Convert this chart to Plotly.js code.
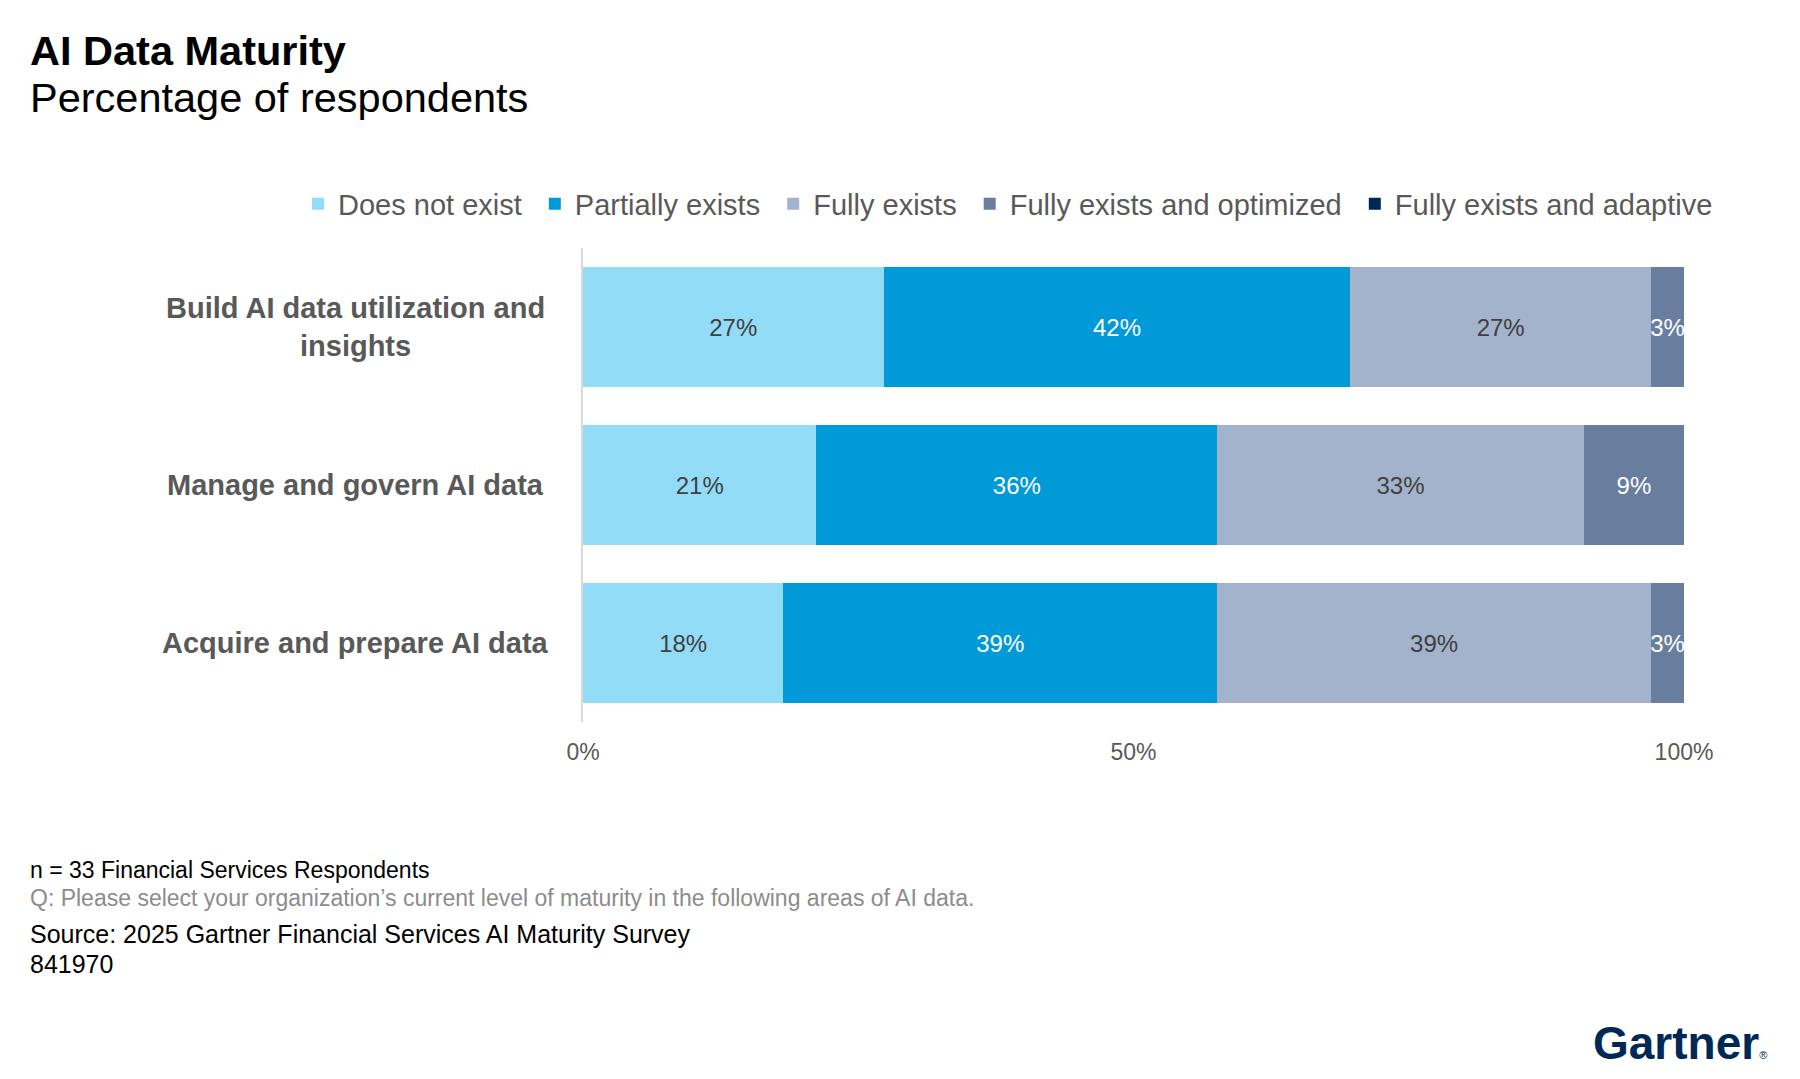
<!DOCTYPE html>
<html>
<head>
<meta charset="utf-8">
<script src="https://cdn.plot.ly/plotly-3.0.1.min.js"></script>
<style>
  html, body { margin: 0; padding: 0; background: #ffffff; }
  #chart { width: 1800px; height: 1079px; }
</style>
</head>
<body>
<div id="chart"></div>
<script>
// ---- Data ----
const categories = [
  "Build AI data utilization and<br>insights",
  "Manage and govern AI data",
  "Acquire and prepare AI data"
];
const seriesNames = [
  "Does not exist",
  "Partially exists",
  "Fully exists",
  "Fully exists and optimized",
  "Fully exists and adaptive"
];
const doesNotExist = [27.3, 21.2, 18.2];
const partiallyExists = [42.4, 36.4, 39.4];
const fullyExists = [27.3, 33.3, 39.4];
const fullyOptimized = [3.0, 9.1, 3.0];
const fullyAdaptive = [0, 0, 0];
const xTickVals = [0, 50, 100];
const xTickText = ["0%", "50%", "100%"];

const titleText = "AI Data Maturity";
const subtitleText = "Percentage of respondents";
const footnotes = [
  "n = 33 Financial Services Respondents",
  "Q: Please select your organization\u2019s current level of maturity in the following areas of AI data.",
  "Source: 2025 Gartner Financial Services AI Maturity Survey",
  "841970"
];

// ---- Styles ----
const FONT = "'Liberation Sans', Arial, Helvetica, sans-serif";
const colors = ["#92DCF8", "#009AD8", "#A2B3CB", "#697E9F", "#002856"];
const textColors = ["#404040", "#ffffff", "#404040", "#ffffff", "#ffffff"];
const seriesValues = [doesNotExist, partiallyExists, fullyExists, fullyOptimized, fullyAdaptive];

const traces = seriesValues.map((vals, i) => ({
  type: "bar",
  orientation: "h",
  name: seriesNames[i] + "\u00A0",
  y: categories,
  x: vals,
  marker: { color: colors[i], line: { width: 0 } },
  texttemplate: "%{x:.0f}%",
  textposition: i === 4 ? "none" : "inside",
  insidetextanchor: "middle",
  textangle: 0,
  constraintext: "none",
  textfont: { family: FONT, size: 24, color: textColors[i] },
  hoverinfo: "skip"
}));

// geometry of the plot area (pixels) used to convert to paper coordinates
const W = 1800, H = 1079;
const L = 583, R = 1684, T = 248, B = 722;
const px = x => (x - L) / (R - L);
const py = y => (B - y) / (B - T);

const annotations = [];
// category labels (centered block to the left of the axis)
categories.forEach(c => {
  annotations.push({
    xref: "paper", yref: "y", x: px(355), y: c,
    xanchor: "center", yanchor: "middle", align: "center",
    text: "<b>" + c + "</b>", showarrow: false,
    font: { family: FONT, size: 29, color: "#595959" }
  });
});
// title + subtitle
annotations.push({
  xref: "paper", yref: "paper", x: px(28), y: py(50),
  xanchor: "left", yanchor: "middle", align: "left",
  text: "<b>" + titleText + "</b>", showarrow: false,
  font: { family: FONT, size: 41.5, color: "#000000" }
});
annotations.push({
  xref: "paper", yref: "paper", x: px(28), y: py(97),
  xanchor: "left", yanchor: "middle", align: "left",
  text: subtitleText, showarrow: false,
  font: { family: FONT, size: 41.5, color: "#000000" }
});
// footnotes
const footY = [870, 898, 934, 964];
const footSize = [23, 23, 25, 25];
const footColor = ["#000000", "#8C8C8C", "#000000", "#000000"];
footnotes.forEach((t, i) => {
  annotations.push({
    xref: "paper", yref: "paper", x: px(28), y: py(footY[i]),
    xanchor: "left", yanchor: "middle", align: "left",
    text: t, showarrow: false,
    font: { family: FONT, size: footSize[i], color: footColor[i] }
  });
});
// Gartner wordmark
annotations.push({
  xref: "paper", yref: "paper", x: px(1680), y: py(1043),
  xanchor: "center", yanchor: "middle",
  text: "<b>Gartner</b><span style='font-size:11px'>\u00AE</span>", showarrow: false,
  font: { family: FONT, size: 46, color: "#002856" }
});

const layout = {
  width: W, height: H,
  margin: { l: L, r: W - R, t: T, b: H - B, pad: 0 },
  paper_bgcolor: "#ffffff",
  plot_bgcolor: "#ffffff",
  barmode: "stack",
  bargap: 0.24,
  showlegend: true,
  legend: {
    orientation: "h",
    x: px(298), xanchor: "left",
    y: py(204), yanchor: "middle",
    font: { family: FONT, size: 29, color: "#595959" },
    traceorder: "normal",
    itemwidth: 30,
    bgcolor: "rgba(0,0,0,0)"
  },
  xaxis: {
    range: [0, 100],
    tickmode: "array",
    tickvals: xTickVals,
    ticktext: xTickText,
    showgrid: false,
    zeroline: false,
    showline: false,
    ticks: "",
    ticklabelstandoff: 14,
    tickfont: { family: FONT, size: 23, color: "#595959" },
    fixedrange: true
  },
  yaxis: {
    type: "category",
    categoryorder: "array",
    categoryarray: categories,
    range: [2.5, -0.5],
    showticklabels: false,
    showgrid: false,
    zeroline: false,
    showline: true,
    linecolor: "#D9D9D9",
    linewidth: 2,
    ticks: "",
    fixedrange: true
  },
  annotations: annotations,
  hovermode: false
};

Plotly.newPlot("chart", traces, layout, { displayModeBar: false, staticPlot: true });
</script>
</body>
</html>
